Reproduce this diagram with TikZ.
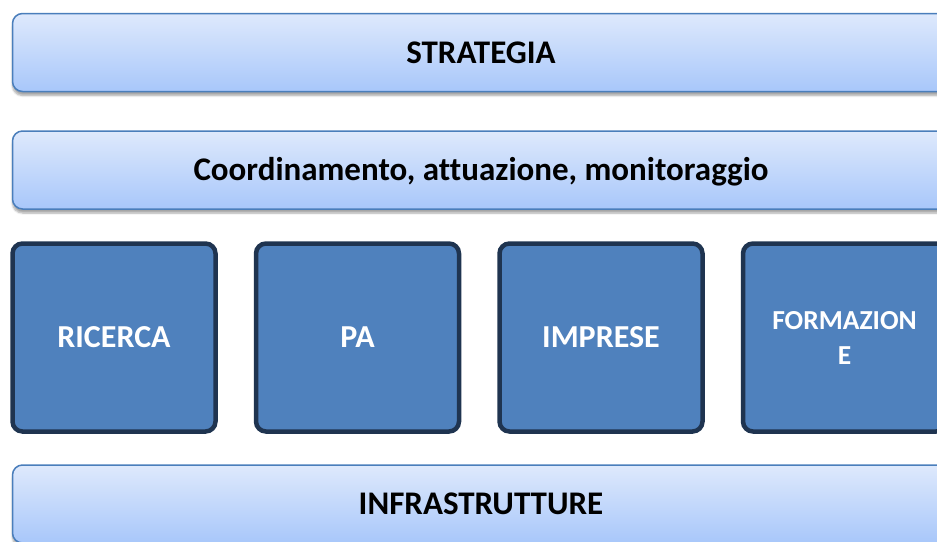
\documentclass[tikz,border=0pt]{standalone}
\usepackage{fontspec}
\setmainfont{Carlito}[Ligatures=NoCommon]
\usepackage{tikz}
\usetikzlibrary{shadows.blur}
\definecolor{bartop}{HTML}{DEE9FC}
\definecolor{barbottom}{HTML}{A8C7FA}
\definecolor{barline}{HTML}{4A7EBB}
\definecolor{boxfill}{HTML}{4F81BD}
\definecolor{boxline}{HTML}{1F3450}

\begin{document}
\begin{tikzpicture}[
    x=1pt, y=-1pt,
    bar/.style={draw=barline, line width=1.5pt, rounded corners=10pt,
        top color=bartop, bottom color=barbottom,
        minimum width=937pt, minimum height=78pt,
        font=\fontsize{33}{38}\selectfont\bfseries, text height=21pt, text depth=0pt,
        blur shadow={shadow xshift=0pt, shadow yshift=-4pt, shadow blur steps=6, shadow opacity=35}},
    area/.style={draw=boxline, line width=4.5pt, rounded corners=10pt, fill=boxfill,
        minimum width=203pt, minimum height=188pt, text=white, align=center,
        font=\fontsize{32}{38}\selectfont\bfseries},
    every node/.style={inner sep=0pt}
    ]

    \useasboundingbox (0,0) rectangle (937,541);
    % horizontal layers
    \node[bar] (strategia) at (481,52.5) {STRATEGIA};
    \node[bar] (coord) at (481,170) {Coordinamento, attuazione, monitoraggio};
    % pillars
    \node[area, text height=20.5pt, text depth=0pt] (ricerca) at (114,337.5) {RICERCA};
    \node[area, text height=20.5pt, text depth=0pt] (pa) at (357.5,337.5) {PA};
    \node[area, text height=20.5pt, text depth=0pt] (imprese) at (601,337.5) {IMPRESE};
    \node[area, font=\fontsize{27.5}{35}\selectfont\bfseries] (formazione) at (844.5,337.5) {FORMAZION\\E};
    % base
    \node[bar] (infra) at (481,504) {INFRASTRUTTURE};
\end{tikzpicture}
\end{document}
